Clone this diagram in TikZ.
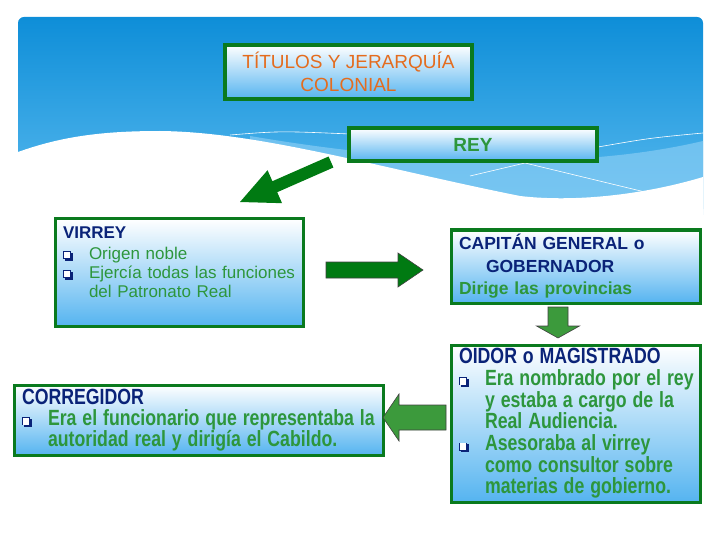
\documentclass[tikz,border=0pt]{standalone}
\usepackage{fontspec}
\setmainfont{Liberation Sans}
\usepackage{graphicx}
\usepackage{tikz}
\usetikzlibrary{calc}
\definecolor{slideTop}{HTML}{0E8ED8}
\definecolor{slideLow}{HTML}{5BBBEF}
\definecolor{bandBlue}{HTML}{86CCF4}
\definecolor{boxGreen}{HTML}{0A7A1E}
\definecolor{boxBlue}{HTML}{55B4F0}
\definecolor{darkArrow}{HTML}{007A12}
\definecolor{lightArrow}{HTML}{3C9A3C}
\definecolor{navyText}{HTML}{0A2378}
\definecolor{greenText}{HTML}{2D963C}
\definecolor{orangeText}{HTML}{E46C1E}

% hollow square bullet with shadow, hanging indent, condensed lines
\newcommand{\qbox}{{\color{navyText}\rlap{\kern1.6pt\rule[-1.4pt]{8pt}{8pt}}\rlap{\rule{8pt}{8pt}}\kern0.8pt\color{white}\rule[0.8pt]{6.4pt}{6.4pt}}}
\newcommand{\qmark}{\makebox[26pt][l]{\qbox}}
\newcommand{\qgap}{\hspace*{26pt}}
\newcommand{\cond}[1]{\scalebox{0.805}[1]{#1}}
\newcommand{\gcond}[1]{\scalebox{0.805}[1]{\color{greenText}#1}}

\begin{document}
\begin{tikzpicture}[x=1pt, y=-1pt,
  every node/.style={inner sep=0pt, outer sep=0pt},
  framebox/.style={draw=boxGreen, line width=3pt, top color=white,
                   bottom color=boxBlue, anchor=north west},
  infobox/.style={framebox, align=left, inner xsep=8pt},
  blockarr/.style n args={3}{to path={let \p1=(\tikztostart), \p2=(\tikztotarget),
      \n1={atan2(\y2-\y1,\x2-\x1)}, \n2={veclen(\x2-\x1,\y2-\y1)} in
      ($(\p1)+(\n1+90:#1)$) -- ($(\p1)+(\n1:\n2-#3)+(\n1+90:#1)$)
      -- ($(\p1)+(\n1:\n2-#3)+(\n1+90:#2)$) -- (\p2)
      -- ($(\p1)+(\n1:\n2-#3)+(\n1-90:#2)$) -- ($(\p1)+(\n1:\n2-#3)+(\n1-90:#1)$)
      -- ($(\p1)+(\n1-90:#1)$) -- cycle}},
  darkarr/.style={fill=darkArrow},
  lightarr/.style={fill=lightArrow, draw=black!75, line width=0.6pt}
]
\useasboundingbox (0,0) rectangle (720,540);

% slide background with the white wave
\shade[top color=slideTop, bottom color=slideLow, rounded corners=6pt] (18,17) rectangle (703,215);
\fill[bandBlue, opacity=0.7] (250,136) .. controls (420,165) and (580,170) .. (703,141) -- (703,215) -- (250,215) -- cycle;
\draw[white, line width=0.6pt] (230,135) .. controls (280,131) .. (350,134);
\draw[white, line width=0.6pt] (598,147) .. controls (650,138) .. (703,133);
\fill[white] (18,152) .. controls (60,137) and (100,131) .. (160,131)
  .. controls (260,132) and (380,168) .. (520,196)
  .. controls (580,203) and (650,193) .. (703,177) -- (703,230) -- (18,230) -- cycle;
\draw[white, line width=0.6pt] (470,176) -- (525,163) -- (645,192);

% boxes
\node[framebox, line width=3.5pt, minimum width=247pt, minimum height=54pt, align=center,
      font=\fontsize{19}{23}\selectfont, text=orangeText] (titulo) at (225,45)
      {TÍTULOS Y JERARQUÍA\\COLONIAL};
\node[framebox, line width=3.5pt, minimum width=248pt, minimum height=33pt,
      font=\bfseries\fontsize{19}{23}\selectfont, text=greenText] (rey) at (349,128) {REY};

\node[infobox, minimum width=248pt, minimum height=107pt, text width=232pt,
      font=\fontsize{17}{19}\selectfont, text=navyText] (virrey) at (55,219)
      {\textbf{VIRREY}\\[2pt]
       \qmark{\color{greenText}Origen noble}\\
       \qmark{\color{greenText}Ejercía todas las funciones}\\
       \qgap{\color{greenText}del Patronato Real}\\
       \rule{0pt}{20pt}};

\node[infobox, minimum width=249pt, minimum height=73pt, text width=233pt,
      font=\bfseries\fontsize{17.5}{22.5}\selectfont, text=navyText] (capitan) at (451,230)
      {CAPITÁN GENERAL o\\\hspace*{27pt}GOBERNADOR\\{\color{greenText}Dirige las provincias}};

\node[infobox, minimum width=249pt, minimum height=157pt, text width=233pt,
      font=\bfseries\fontsize{22}{21.7}\selectfont, text=navyText] (oidor) at (451,345)
      {\cond{OIDOR o MAGISTRADO}\\
       \qmark\gcond{Era nombrado por el rey}\\
       \qgap\gcond{y estaba a cargo de la}\\
       \qgap\gcond{Real Audiencia.}\\
       \qmark\gcond{Asesoraba al virrey}\\
       \qgap\gcond{como consultor sobre}\\
       \qgap\gcond{materias de gobierno.}};

\node[infobox, minimum width=369pt, minimum height=70pt, text width=353pt,
      font=\bfseries\fontsize{22}{21}\selectfont, text=navyText] (corregidor) at (14,385)
      {\cond{CORREGIDOR}\\
       \qmark\gcond{Era el funcionario que representaba la}\\
       \qgap\gcond{autoridad real y dirigía el Cabildo.}};

% block arrows
\coordinate (reyTail) at (331,162);
\coordinate (virreyTip) at (240,202);
\coordinate (virreyTail) at (326,270);
\coordinate (capitanTip) at (423,270);
\coordinate (capitanTail) at (558,307);
\coordinate (oidorTip) at (558,338);
\coordinate (oidorTail) at (446,417.5);
\coordinate (corregidorTip) at (383,417.5);

\path[darkarr] (reyTail) to[blockarr={6pt}{18pt}{38pt}] (virreyTip);
\path[darkarr, draw=black!75, line width=0.6pt] (virreyTail) to[blockarr={8pt}{17pt}{25pt}] (capitanTip);
\path[lightarr] (capitanTail) to[blockarr={10pt}{21.5pt}{12pt}] (oidorTip);
\path[lightarr] (oidorTail) to[blockarr={12.5pt}{23.5pt}{16pt}] (corregidorTip);

\end{tikzpicture}
\end{document}
